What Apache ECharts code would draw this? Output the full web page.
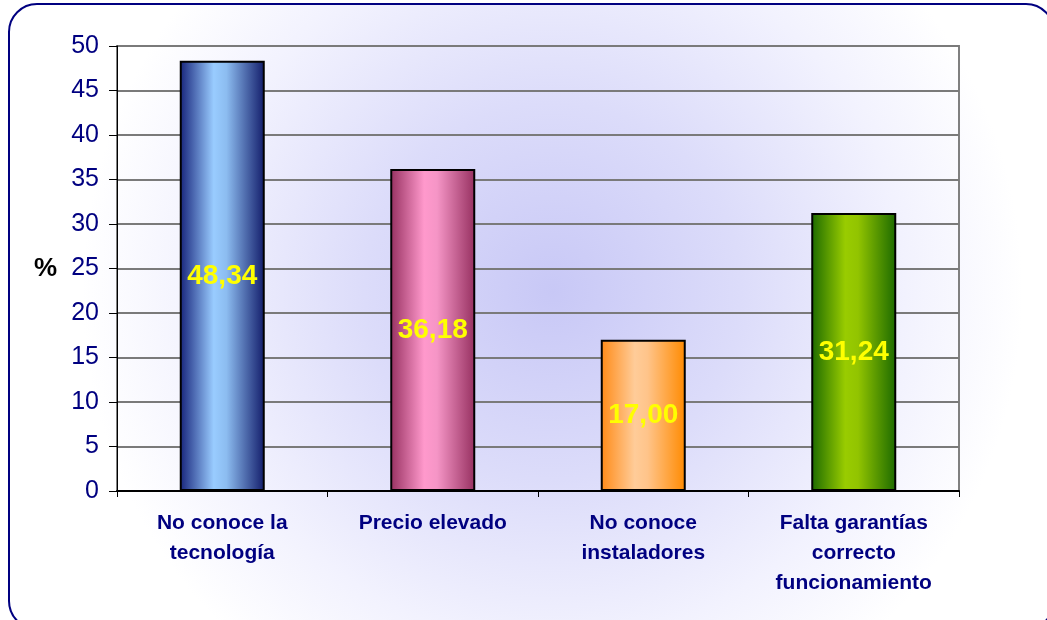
<!DOCTYPE html>
<html>
<head>
<meta charset="utf-8">
<script src="https://cdn.jsdelivr.net/npm/echarts@6/dist/echarts.min.js"></script>
<style>
  html, body { margin: 0; padding: 0; background: #fff; }
  #chart { width: 1047px; height: 620px; }
</style>
</head>
<body>
<div id="chart"></div>
<script>
const categories = ["No conoce la\ntecnología", "Precio elevado", "No conoce\ninstaladores", "Falta garantías\ncorrecto\nfuncionamiento"];
const values = [48.34, 36.18, 17.00, 31.24];
const yTicks = { min: 0, max: 50, interval: 5 };

// bar gradients, dark edges and light centre
const barColors = [
  ["#16237a", "#99ccff", "#8cbcf0", "#121c6a"],
  ["#963060", "#ff99cc", "#f595c6", "#963060"],
  ["#ff8a16", "#ffcc99", "#ffc48a", "#ff8a00"],
  ["#1c6a00", "#99cc00", "#92c400", "#1c6a00"]
];

const mkGrad = (c) => new echarts.graphic.LinearGradient(0, 0, 1, 0, [
  { offset: 0, color: c[0] },
  { offset: 0.4, color: c[1] },
  { offset: 0.55, color: c[2] },
  { offset: 1, color: c[3] }
]);

const mychart = echarts.init(document.getElementById("chart"));
const option = {
  animation: false,
  backgroundColor: "#ffffff",
  graphic: [
    {
      type: "rect",
      z: -10,
      shape: { x: 9, y: 4, width: 1045, height: 625, r: 28 },
      style: {
        fill: new echarts.graphic.RadialGradient(0.52, 0.46, 0.75, [
          { offset: 0, color: "#c8c8f6" },
          { offset: 0.4, color: "#dcdcfa" },
          { offset: 0.75, color: "#f2f2fe" },
          { offset: 1, color: "#ffffff" }
        ]),
        stroke: "#000080",
        lineWidth: 2
      }
    }
  ],
  grid: {
    left: 117,
    right: 88,
    top: 46,
    bottom: 129,
    show: true,
    borderColor: "#808080",
    borderWidth: 2,
    backgroundColor: "transparent"
  },
  xAxis: {
    type: "category",
    data: categories,
    axisLine: { lineStyle: { color: "#000", width: 2 } },
    axisTick: { show: true, length: 6, lineStyle: { color: "#000" } },
    axisLabel: {
      margin: 17,
      color: "#000080",
      fontFamily: "Liberation Sans, Arial",
      fontWeight: "bold",
      fontSize: 21,
      lineHeight: 30,
      interval: 0
    }
  },
  yAxis: {
    type: "value",
    min: yTicks.min,
    max: yTicks.max,
    interval: yTicks.interval,
    name: "%",
    nameLocation: "middle",
    nameRotate: 0,
    nameGap: 60,
    nameTextStyle: {
      color: "#000",
      fontFamily: "Liberation Sans, Arial",
      fontWeight: "bold",
      fontSize: 26
    },
    axisLine: { show: true, lineStyle: { color: "#000", width: 1 } },
    axisTick: { show: true, length: 8, lineStyle: { color: "#000" } },
    axisLabel: {
      margin: 18,
      color: "#000080",
      fontFamily: "Liberation Sans, Arial",
      fontSize: 25
    },
    splitLine: { lineStyle: { color: "#7a7a7a", width: 2 } }
  },
  series: [
    {
      type: "bar",
      barWidth: 85,
      data: values.map((v, i) => ({
        value: v,
        itemStyle: { color: mkGrad(barColors[i]) }
      })),
      itemStyle: { borderColor: "#000", borderWidth: 2 },
      label: {
        show: true,
        position: "inside",
        color: "#ffff00",
        fontFamily: "Liberation Sans, Arial",
        fontWeight: "bold",
        fontSize: 28,
        formatter: (p) => p.value.toFixed(2).replace(".", ",")
      }
    }
  ]
};
mychart.setOption(option);
</script>
</body>
</html>
